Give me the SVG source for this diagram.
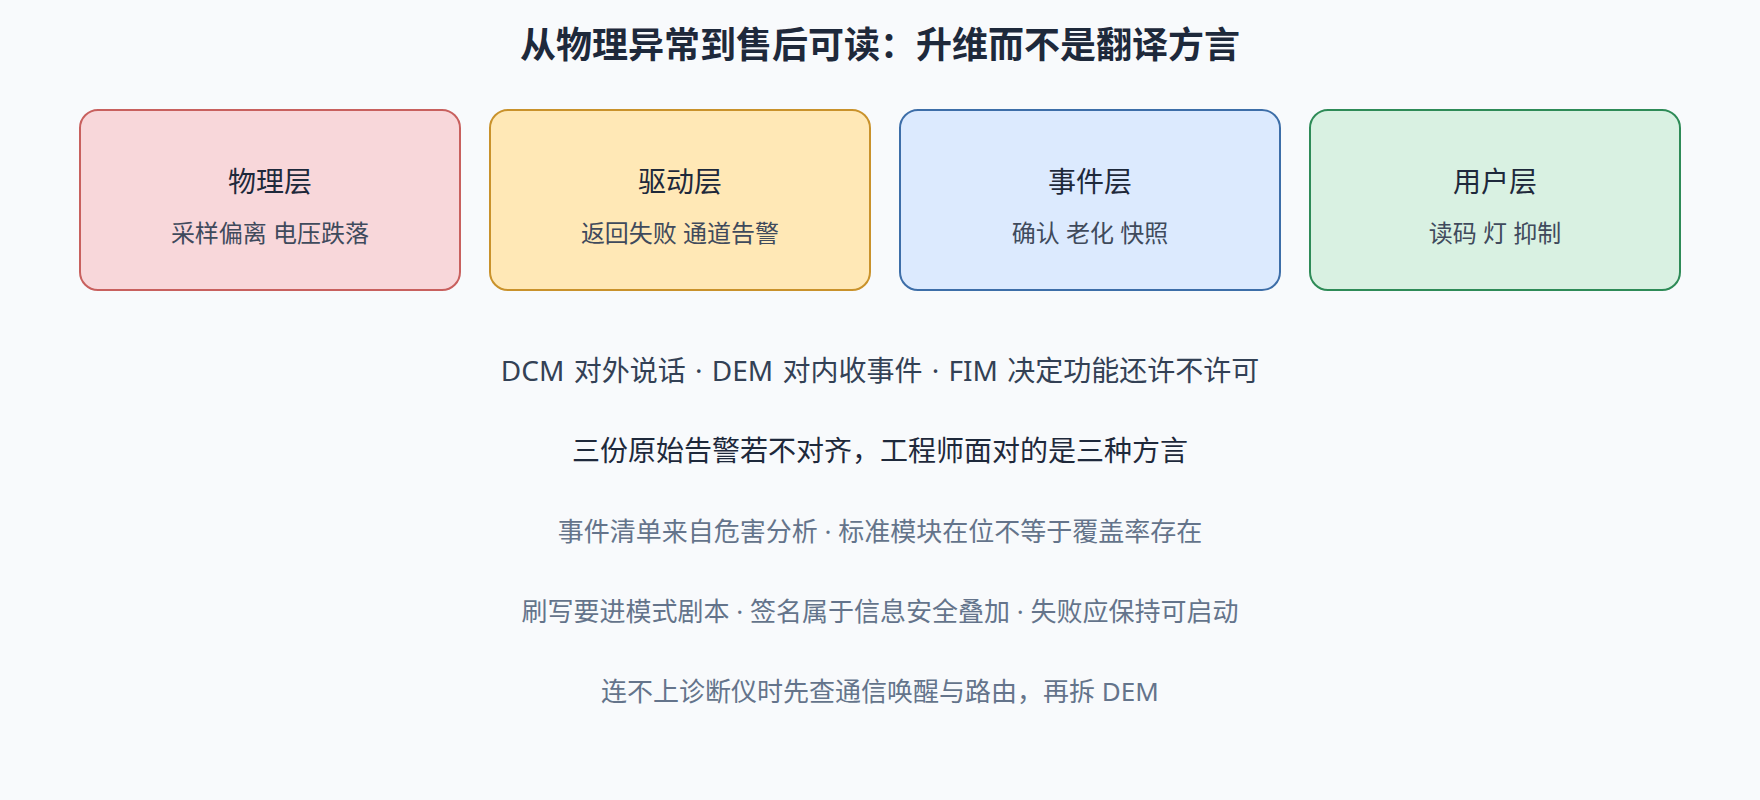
<svg xmlns="http://www.w3.org/2000/svg" width="1760" height="800" viewBox="0 0 1760 800">
  <style>
    text { font-family: "Noto Sans", "Noto Sans CJK SC", sans-serif; text-anchor: middle; dominant-baseline: central; }
    .title { font-size: 36px; font-weight: 700; fill: #1e293b; }
    .box { stroke-width: 2; }
    .nt { font-size: 28px; fill: #1e293b; }
    .ns { font-size: 24px; fill: #3f4a5c; }
    .l1 { font-size: 28px; fill: #334155; word-spacing: 2px; }
    .l2 { font-size: 28px; fill: #1e293b; }
    .l3 { font-size: 26px; fill: #64748b; }
  </style>
  <rect width="1760" height="800" fill="#f8fafc"/>
  <text class="title" x="880" y="44">从物理异常到售后可读：升维而不是翻译方言</text>
  <g id="node-physical">
    <rect class="box" x="80" y="110" width="380" height="180" rx="18" fill="#f8d7da" stroke="#c8605e"/>
    <text class="nt" x="270" y="181">物理层</text>
    <text class="ns" x="270" y="232">采样偏离 电压跌落</text>
  </g>
  <g id="node-driver">
    <rect class="box" x="490" y="110" width="380" height="180" rx="18" fill="#ffe8b6" stroke="#c9922b"/>
    <text class="nt" x="680" y="181">驱动层</text>
    <text class="ns" x="680" y="232">返回失败 通道告警</text>
  </g>
  <g id="node-event">
    <rect class="box" x="900" y="110" width="380" height="180" rx="18" fill="#dceafe" stroke="#3d6ea8"/>
    <text class="nt" x="1090" y="181">事件层</text>
    <text class="ns" x="1090" y="232">确认 老化 快照</text>
  </g>
  <g id="node-user">
    <rect class="box" x="1310" y="110" width="370" height="180" rx="18" fill="#d9f1e2" stroke="#2e8b57"/>
    <text class="nt" x="1495" y="181">用户层</text>
    <text class="ns" x="1495" y="232">读码 灯 抑制</text>
  </g>
  <g id="connectors"></g>
  <g id="notes">
    <text class="l1" x="880" y="370">DCM 对外说话 · DEM 对内收事件 · FIM 决定功能还许不许可</text>
    <text class="l2" x="880" y="450">三份原始告警若不对齐，工程师面对的是三种方言</text>
    <text class="l3" x="880" y="531">事件清单来自危害分析 · 标准模块在位不等于覆盖率存在</text>
    <text class="l3" x="880" y="611">刷写要进模式剧本 · 签名属于信息安全叠加 · 失败应保持可启动</text>
    <text class="l3" x="880" y="691">连不上诊断仪时先查通信唤醒与路由，再拆 DEM</text>
  </g>
</svg>
